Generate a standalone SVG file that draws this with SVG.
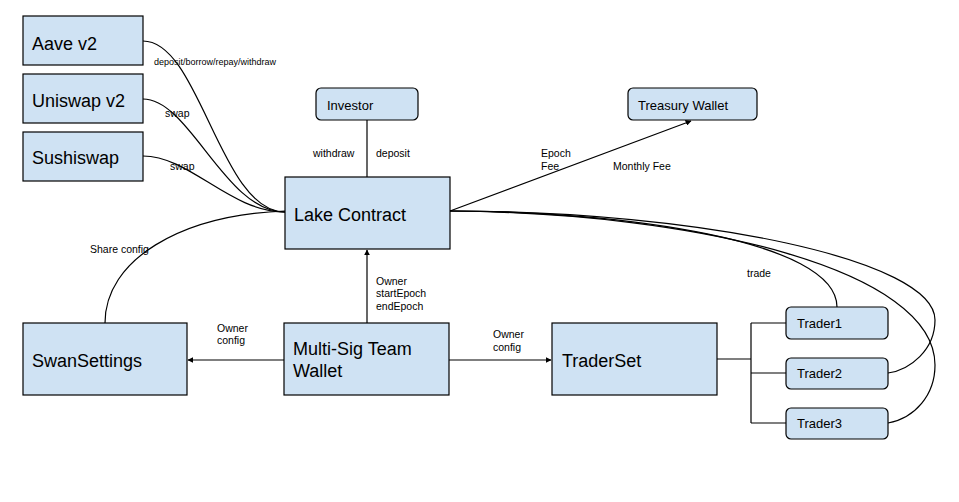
<svg xmlns="http://www.w3.org/2000/svg" width="959" height="502" viewBox="0 0 959 502">
<defs>
<style>
.box{fill:#cfe2f3;stroke:#000;stroke-width:1.2}
.big{font-family:"Liberation Sans",Arial,sans-serif;font-size:18px;fill:#000}
.mid{font-family:"Liberation Sans",Arial,sans-serif;font-size:13px;fill:#000}
.lbl{font-family:"Liberation Sans",Arial,sans-serif;font-size:10.5px;fill:#000}
.sm{font-family:"Liberation Sans",Arial,sans-serif;font-size:9px;fill:#000}
.edge{fill:none;stroke:#000;stroke-width:1.2}
</style>
<marker id="arr" viewBox="0 0 10 10" refX="9" refY="5" markerWidth="6" markerHeight="6" markerUnits="userSpaceOnUse" orient="auto">
<path d="M0,0 L10,5 L0,10 z" fill="#000"/>
</marker>
</defs>
<rect width="959" height="502" fill="#fff"/>

<g id="connectors">
<path class="edge" d="M143,41 C200,41 220,212 285,212"/>
<path class="edge" d="M143,99 C190,99 225,212 285,212"/>
<path class="edge" d="M143,156 C190,156 230,212 285,212"/>
<path class="edge" d="M105,323 C105,260 180,215 285,211"/>
<line class="edge" x1="367" y1="120" x2="367" y2="177"/>
<line class="edge" x1="450" y1="211" x2="691" y2="121" marker-end="url(#arr)"/>
<line class="edge" x1="367" y1="323" x2="367" y2="250" marker-end="url(#arr)"/>
<line class="edge" x1="284" y1="360" x2="188" y2="360" marker-end="url(#arr)"/>
<line class="edge" x1="449" y1="360" x2="551" y2="360" marker-end="url(#arr)"/>
<path class="edge" d="M717,359 H751 M751,323 V423 M751,323 H786 M751,373 H786 M751,423 H786"/>
<path class="edge" d="M450,211 C620,211 837,240 837,307"/>
<path class="edge" d="M450,211 C700,211 935,260 935,320 C935,350 910,370 888,373"/>
<path class="edge" d="M450,211 C700,213 935,270 935,365 C935,395 915,418 888,423"/>
<text class="sm" x="154" y="65">deposit/borrow/repay/withdraw</text>
<text class="lbl" x="165" y="117">swap</text>
<text class="lbl" x="170" y="170">swap</text>
<text class="lbl" x="313" y="157">withdraw</text>
<text class="lbl" x="376" y="157">deposit</text>
<text class="lbl" x="541" y="157">Epoch</text>
<text class="lbl" x="541" y="170">Fee</text>
<text class="lbl" x="613" y="170">Monthly Fee</text>
<text class="lbl" x="90" y="253">Share config</text>
<text class="lbl" x="376" y="285">Owner</text>
<text class="lbl" x="376" y="297">startEpoch</text>
<text class="lbl" x="376" y="310">endEpoch</text>
<text class="lbl" x="217" y="332">Owner</text>
<text class="lbl" x="217" y="344">config</text>
<text class="lbl" x="493" y="338">Owner</text>
<text class="lbl" x="493" y="351">config</text>
<text class="lbl" x="747" y="277">trade</text>
</g>

<g id="aave"><rect class="box" x="23" y="16" width="120" height="49"/><text class="big" x="32" y="50">Aave v2</text></g>
<g id="uniswap"><rect class="box" x="23" y="74" width="120" height="49"/><text class="big" x="32" y="107">Uniswap v2</text></g>
<g id="sushiswap"><rect class="box" x="23" y="132" width="120" height="49"/><text class="big" x="32" y="164">Sushiswap</text></g>
<g id="investor"><rect class="box" x="316" y="88" width="102" height="32" rx="5"/><text class="mid" x="327" y="110">Investor</text></g>
<g id="treasury"><rect class="box" x="628" y="88" width="129" height="32" rx="5"/><text class="mid" x="638" y="110">Treasury Wallet</text></g>
<g id="lake"><rect class="box" x="285" y="177" width="165" height="72"/><text class="big" x="294" y="221">Lake Contract</text></g>
<g id="swansettings"><rect class="box" x="23" y="323" width="164" height="72"/><text class="big" x="32" y="367">SwanSettings</text></g>
<g id="multisig"><rect class="box" x="284" y="323" width="165" height="72"/><text class="big" x="293" y="355">Multi-Sig Team</text><text class="big" x="293" y="377">Wallet</text></g>
<g id="traderset"><rect class="box" x="552" y="323" width="165" height="72"/><text class="big" x="562" y="367">TraderSet</text></g>
<g id="trader1"><rect class="box" x="786" y="307" width="102" height="32" rx="5"/><text class="mid" x="797" y="328">Trader1</text></g>
<g id="trader2"><rect class="box" x="786" y="358" width="102" height="31" rx="5"/><text class="mid" x="797" y="378">Trader2</text></g>
<g id="trader3"><rect class="box" x="786" y="408" width="102" height="31" rx="5"/><text class="mid" x="797" y="428">Trader3</text></g>
</svg>
